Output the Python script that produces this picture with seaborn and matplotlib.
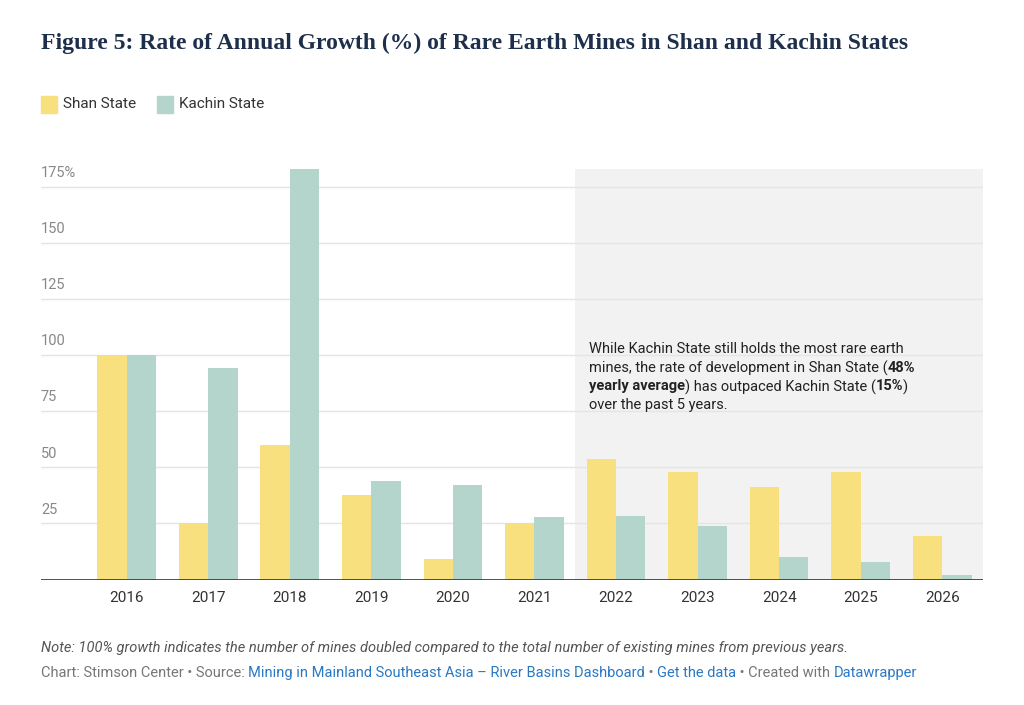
import matplotlib
matplotlib.use("Agg")
import matplotlib.pyplot as plt
import seaborn as sns
import pandas as pd

years = ["2016","2017","2018","2019","2020","2021","2022","2023","2024","2025","2026"]
shan = [100, 25, 60, 37.5, 9, 25, 53.5, 48, 41, 48, 19.6]
kachin = [100, 94, 183, 44, 42, 28, 28.5, 24, 10, 7.6, 2]
series = ["Shan State", "Kachin State"]
colors = ["#f8e07f", "#b4d5cb"]
yticks = [25, 50, 75, 100, 125, 150, 175]

df = pd.DataFrame({"year": years*2, "val": shan+kachin,
                   "series": [series[0]]*len(years)+[series[1]]*len(years)})

sns.set_style("white")
plt.rcParams['font.family'] = ['Roboto', 'DejaVu Sans']
fig = plt.figure(figsize=(10.24, 7.05), dpi=100)
ax = fig.add_axes([0.04, 0.178, 0.92, 0.605])
ax.set_ylim(0, 190)
ax.axvspan(5.5, 10.5, ymax=183/190, color="#f2f2f2", zorder=0, lw=0)
sns.barplot(data=df, x="year", y="val", hue="series", palette=colors,
            width=0.72, gap=0, ax=ax, legend=False, zorder=2, saturation=1, linewidth=0)
ax.set_xlim(-1.05, 10.5)
ax.set_ylim(0, 190)
for t in yticks:
    ax.axhline(t, color="#e5e5e5", lw=1, zorder=1)
    ax.text(-1.05, t+3, f"{t}%" if t == 175 else str(t), color="#888888", fontsize=10.5, va="bottom", ha="left")
ax.set_yticks([])
ax.set_xlabel(""); ax.set_ylabel("")
ax.axhline(0, color="#333333", lw=1.2, zorder=3)
ax.tick_params(axis="x", length=0, labelsize=11, colors="#333333", pad=8)
sns.despine(ax=ax, left=True, bottom=True)

lines = [
    [("While Kachin State still holds the most rare earth", "normal")],
    [("mines, the rate of development in Shan State (", "normal"), ("48%", "bold")],
    [("yearly average", "bold"), (") has outpaced Kachin State (", "normal"), ("15%", "bold"), (")", "normal")],
    [("over the past 5 years.", "normal")],
]
fig.canvas.draw()
r = fig.canvas.get_renderer()
y0 = 0.515
for i, ln in enumerate(lines):
    x = 0.575
    for s, w in ln:
        t = fig.text(x, y0 - i*0.0265, s, fontsize=10.5, weight=w, color="#222222", va="top")
        x += t.get_window_extent(r).width / fig.bbox.width

fig.text(0.04, 0.93, "Figure 5: Rate of Annual Growth (%) of Rare Earth Mines in Shan and Kachin States",
         fontsize=17, weight="bold", color="#1d2f4a", family=["Liberation Serif", "DejaVu Serif"])
for i, (s, c) in enumerate(zip(series, colors)):
    x = 0.04 + i*0.113
    fig.patches.append(plt.Rectangle((x, 0.84), 0.016, 0.024, transform=fig.transFigure, color=c, figure=fig))
    fig.text(x+0.022, 0.852, s, fontsize=11, color="#333333", va="center")
fig.text(0.04, 0.075, "Note: 100% growth indicates the number of mines doubled compared to the total number of existing mines from previous years.",
         fontsize=10.5, style="italic", color="#555555")
parts = [("Chart: Stimson Center • Source: ", "#777777"), ("Mining in Mainland Southeast Asia – River Basins Dashboard", "#2a78c4"),
         (" • ", "#777777"), ("Get the data", "#2a78c4"), (" • Created with ", "#777777"), ("Datawrapper", "#2a78c4")]
x = 0.04
for s, c in parts:
    t = fig.text(x, 0.04, s, fontsize=10.5, color=c)
    x += t.get_window_extent(r).width / fig.bbox.width
fig.savefig("out.png", dpi=100, facecolor="white")
